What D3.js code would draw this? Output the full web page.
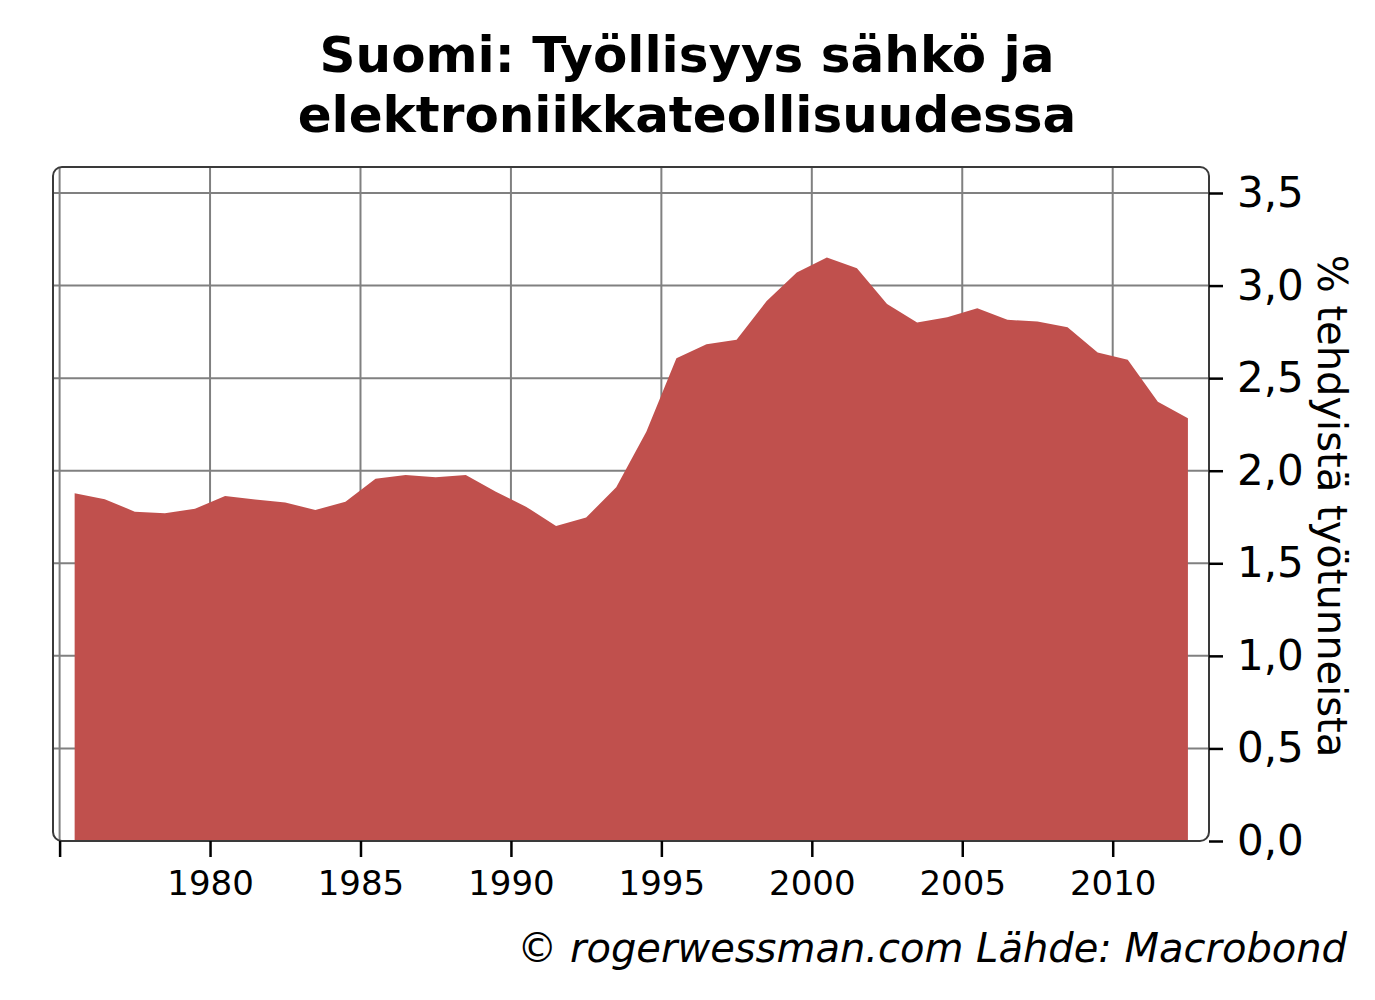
<!DOCTYPE html>
<html>
<head>
<meta charset="utf-8">
<script src="https://cdn.jsdelivr.net/npm/d3@7"></script>
<style>
  body { margin: 0; background: #fff; }
  svg { font-family: 'DejaVu Sans', Verdana, sans-serif; }
</style>
</head>
<body>
<div id="chart"></div>
<script>
// yearly values, % of hours worked
const years = d3.range(1975, 2013)
const shares = [
	1.878, 1.846, 1.779, 1.770, 1.794, 1.864, 1.845, 1.828, 1.788, 1.833,
	1.956, 1.977, 1.965, 1.977, 1.887, 1.806, 1.702, 1.747, 1.911, 2.211,
	2.608, 2.683, 2.707, 2.917, 3.070, 3.151, 3.094, 2.901, 2.800, 2.829,
	2.878, 2.815, 2.806, 2.775, 2.638, 2.599, 2.373, 2.284
]
const xTicks = [1975, 1980, 1985, 1990, 1995, 2000, 2005, 2010]
const yTicks = [0, 0.5, 1, 1.5, 2, 2.5, 3, 3.5]
const titleLines = ['Suomi: Työllisyys sähkö ja', 'elektroniikkateollisuudessa']
const yTitle = '% tehdyistä työtunneista'
const source = '© rogerwessman.com Lähde: Macrobond'

const width = 1375
const height = 1000
const box = { left: 53, right: 1209, top: 167, bottom: 841 }

const data = years.map((y, i) => ({ year: y, value: shares[i] }))

// 1975 gridline sits at ~59.6px, 2010 at ~1112.7px
const x = d3.scaleLinear().domain([1975, 2010]).range([59.6, 1112.7])
const y = d3.scaleLinear().domain([0, 3.5]).range([box.bottom, 193])

const svg = d3.select('#chart').append('svg').attr('width', width).attr('height', height)

//title
svg.append('text')
	.attr('x', 687)
	.attr('y', 72)
	.attr('text-anchor', 'middle')
	.attr('font-size', '50px')
	.attr('font-weight', 'bold')
	.selectAll('tspan')
	.data(titleLines)
	.enter()
	.append('tspan')
	.attr('x', 687)
	.attr('dy', (d, i) => (i === 0 ? 0 : 60))
	.text(d => d)

const clipId = 'plot-clip'
svg.append('clipPath').attr('id', clipId)
	.append('rect')
	.attr('x', box.left).attr('y', box.top)
	.attr('width', box.right - box.left).attr('height', box.bottom - box.top)
	.attr('rx', 9)

const plot = svg.append('g').attr('clip-path', `url(#${clipId})`)

// grid
plot.selectAll('.vgrid')
	.data(xTicks)
	.enter()
	.append('line')
	.attr('class', 'vgrid')
	.attr('x1', d => x(d)).attr('x2', d => x(d))
	.attr('y1', box.top).attr('y2', box.bottom)
	.attr('stroke', '#808080').attr('stroke-width', 2)

plot.selectAll('.hgrid')
	.data(yTicks)
	.enter()
	.append('line')
	.attr('class', 'hgrid')
	.attr('x1', box.left).attr('x2', box.right)
	.attr('y1', d => y(d)).attr('y2', d => y(d))
	.attr('stroke', '#808080').attr('stroke-width', 2)

// area, plotted at mid-year
const area = d3.area()
	.x(d => x(d.year + 0.5))
	.y0(y(0))
	.y1(d => y(d.value))

plot.append('path')
	.datum(data)
	.attr('d', area)
	.attr('fill', '#C0504D')

// frame
svg.append('rect')
	.attr('x', box.left).attr('y', box.top)
	.attr('width', box.right - box.left).attr('height', box.bottom - box.top)
	.attr('rx', 9)
	.attr('fill', 'none')
	.attr('stroke', '#3a3a3a')
	.attr('stroke-width', 2)

// right axis
const yAxis = d3.axisRight(y)
	.tickValues(yTicks)
	.tickSize(14)
	.tickPadding(14)
	.tickFormat(d => d3.format('.1f')(d).replace('.', ','))

const gy = svg.append('g')
	.attr('transform', `translate(${box.right},0)`)
	.call(yAxis)
gy.select('.domain').remove()
gy.selectAll('line').attr('stroke', '#000').attr('stroke-width', 2.5)
gy.selectAll('text')
	.attr('font-family', "'DejaVu Sans', Verdana, sans-serif")
	.attr('font-size', '42px')
	.attr('fill', '#000')

// bottom axis
const xAxis = d3.axisBottom(x)
	.tickValues(xTicks)
	.tickSize(16)
	.tickPadding(14)
	.tickFormat(d => (d === 1975 ? '' : d))

const gx = svg.append('g')
	.attr('transform', `translate(0,${box.bottom})`)
	.call(xAxis)
gx.select('.domain').remove()
gx.selectAll('line').attr('stroke', '#000').attr('stroke-width', 2.5)
gx.selectAll('text')
	.attr('font-family', "'DejaVu Sans', Verdana, sans-serif")
	.attr('font-size', '34px')
	.attr('fill', '#000')

// y title
svg.append('text')
	.attr('transform', `translate(1318,506) rotate(90)`)
	.attr('text-anchor', 'middle')
	.attr('font-size', '40px')
	.text(yTitle)

// source
svg.append('text')
	.attr('x', 1347)
	.attr('y', 962)
	.attr('text-anchor', 'end')
	.attr('font-size', '40px')
	.attr('font-style', 'italic')
	.text(source)
</script>
</body>
</html>
